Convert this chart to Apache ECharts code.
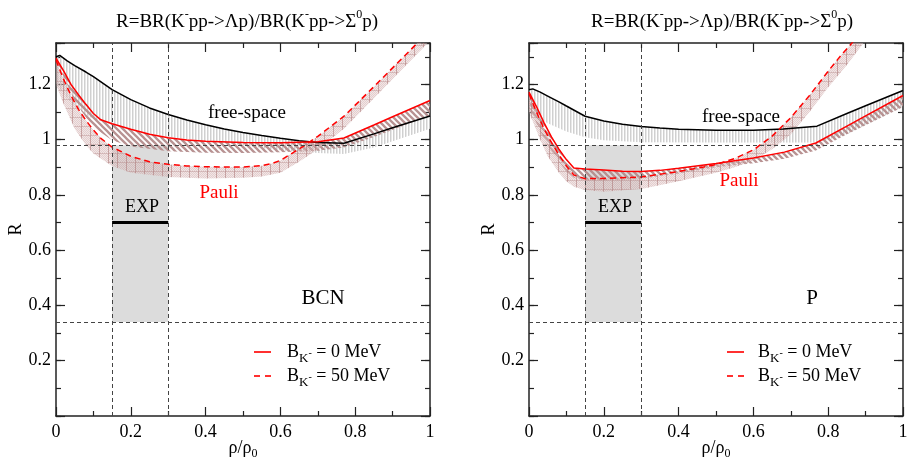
<!DOCTYPE html>
<html><head><meta charset="utf-8">
<script src="https://cdn.jsdelivr.net/npm/echarts@6/dist/echarts.min.js"></script>
<style>html,body{margin:0;padding:0;background:#fff}#c{width:907px;height:462px}</style>
</head><body><div id="c"></div>
<script>
// ---------- axis ticks ----------
const xTicks = [0, 0.2, 0.4, 0.6, 0.8, 1];
const yTicks = [0.2, 0.4, 0.6, 0.8, 1, 1.2];
const yMax = 1.35;

// ---------- experimental window ----------
const expRho = [0.15, 0.30];
const expBand = [0.34, 0.98];
const expValue = 0.70;

// ---------- BCN panel ----------
const bcnFreeX = [0, 0.01, 0.03, 0.05, 0.08, 0.1, 0.15, 0.2, 0.25, 0.3, 0.35, 0.4, 0.45, 0.5, 0.55, 0.6, 0.65, 0.7, 0.77, 0.85, 0.9, 1];
const bcnFreeY = [1.300, 1.305, 1.285, 1.268, 1.245, 1.228, 1.181, 1.145, 1.115, 1.091, 1.071, 1.054, 1.039, 1.026, 1.015, 1.005, 0.996, 0.990, 0.987, 1.021, 1.043, 1.086];
const bcnFreeLoX = [0, 0.03, 0.05, 0.08, 0.1, 0.15, 0.2, 0.3, 0.4, 0.5, 0.6, 0.7, 0.77, 0.85, 1];
const bcnFreeLoY = [1.20, 1.15, 1.12, 1.09, 1.075, 1.055, 1.035, 1.01, 0.995, 0.98, 0.962, 0.952, 0.948, 0.972, 1.04];
const bcnPauli0X = [0, 0.02, 0.04, 0.06, 0.08, 0.1, 0.12, 0.15, 0.2, 0.25, 0.3, 0.35, 0.4, 0.5, 0.6, 0.7, 0.77, 0.85, 0.9, 1];
const bcnPauli0Y = [1.295, 1.25, 1.20, 1.163, 1.128, 1.095, 1.072, 1.058, 1.038, 1.02, 1.007, 0.999, 0.994, 0.990, 0.989, 0.993, 1.006, 1.053, 1.083, 1.142];
const bcnPauli0LoX = [0, 0.03, 0.05, 0.08, 0.1, 0.15, 0.2, 0.3, 0.4, 0.5, 0.6, 0.7, 0.77, 0.85, 1];
const bcnPauli0LoY = [1.29, 1.20, 1.14, 1.08, 1.045, 0.998, 0.975, 0.958, 0.953, 0.952, 0.955, 0.96, 0.972, 1.01, 1.088];
const bcnPauli50X = [0, 0.02, 0.04, 0.06, 0.08, 0.1, 0.12, 0.15, 0.2, 0.25, 0.3, 0.35, 0.4, 0.5, 0.55, 0.58, 0.6, 0.63, 0.66, 0.7, 0.77, 0.85, 0.9, 0.97];
const bcnPauli50Y = [1.288, 1.22, 1.16, 1.11, 1.07, 1.035, 1.005, 0.973, 0.94, 0.92, 0.911, 0.905, 0.902, 0.901, 0.906, 0.915, 0.925, 0.95, 0.975, 1.012, 1.085, 1.192, 1.26, 1.355];
const bcnPauli50LoX = [0, 0.02, 0.05, 0.08, 0.1, 0.15, 0.2, 0.3, 0.4, 0.5, 0.55, 0.6, 0.65, 0.7, 0.77, 0.85, 0.9, 0.98, 1];
const bcnPauli50LoY = [1.2, 1.13, 1.04, 0.98, 0.95, 0.905, 0.88, 0.865, 0.86, 0.862, 0.867, 0.88, 0.92, 0.965, 1.04, 1.15, 1.22, 1.33, 1.36];

// ---------- P panel ----------
const pFreeX = [0, 0.01, 0.03, 0.05, 0.08, 0.1, 0.15, 0.2, 0.25, 0.3, 0.35, 0.4, 0.5, 0.6, 0.68, 0.77, 0.85, 0.9, 1];
const pFreeY = [1.181, 1.184, 1.172, 1.158, 1.137, 1.122, 1.085, 1.068, 1.056, 1.048, 1.042, 1.038, 1.034, 1.034, 1.039, 1.049, 1.095, 1.123, 1.178];
const pFreeLoX = [0, 0.05, 0.1, 0.15, 0.2, 0.3, 0.5, 0.7, 0.77, 0.85, 1];
const pFreeLoY = [1.10, 1.06, 1.03, 1.009, 0.998, 0.991, 0.99, 0.99, 0.99, 1.02, 1.12];
const pPauli0X = [0, 0.02, 0.04, 0.06, 0.08, 0.1, 0.12, 0.15, 0.2, 0.25, 0.3, 0.35, 0.4, 0.5, 0.6, 0.683, 0.767, 0.85, 0.9, 1];
const pPauli0Y = [1.172, 1.12, 1.062, 1.01, 0.966, 0.928, 0.898, 0.894, 0.89, 0.886, 0.885, 0.889, 0.897, 0.914, 0.934, 0.955, 0.988, 1.049, 1.086, 1.16];
const pPauli0LoX = [0, 0.03, 0.05, 0.08, 0.1, 0.12, 0.15, 0.2, 0.3, 0.4, 0.5, 0.6, 0.683, 0.767, 0.85, 1];
const pPauli0LoY = [1.12, 1.03, 0.98, 0.92, 0.885, 0.862, 0.853, 0.853, 0.859, 0.878, 0.9, 0.915, 0.931, 0.961, 1.02, 1.118];
const pPauli50X = [0, 0.02, 0.04, 0.06, 0.08, 0.1, 0.12, 0.15, 0.2, 0.3, 0.4, 0.45, 0.5, 0.55, 0.6, 0.65, 0.7, 0.75, 0.8, 0.834, 0.87];
const pPauli50Y = [1.166, 1.10, 1.04, 0.99, 0.945, 0.905, 0.872, 0.859, 0.86, 0.865, 0.885, 0.897, 0.91, 0.932, 0.963, 1.013, 1.08, 1.16, 1.248, 1.305, 1.36];
const pPauli50LoX = [0, 0.03, 0.05, 0.08, 0.1, 0.12, 0.15, 0.2, 0.3, 0.4, 0.5, 0.55, 0.6, 0.65, 0.7, 0.75, 0.8, 0.85, 0.9];
const pPauli50LoY = [1.10, 1.0, 0.94, 0.88, 0.85, 0.83, 0.818, 0.812, 0.822, 0.85, 0.88, 0.9, 0.925, 0.965, 1.02, 1.1, 1.19, 1.27, 1.36];

// ---------- styling helpers ----------
const FONT = 'Liberation Serif';

function makePattern(kind) {
  const c = document.createElement('canvas');
  const g = c.getContext('2d');
  if (kind === 'vert') {
    c.width = 3; c.height = 3;
    g.fillStyle = 'rgba(205,205,205,0.95)'; g.fillRect(0, 0, 1.5, 3);
  } else if (kind === 'diag') {
    c.width = 6; c.height = 6;
    g.strokeStyle = 'rgba(180,140,140,0.95)'; g.lineWidth = 2.3;
    g.beginPath();
    g.moveTo(-2, -2); g.lineTo(8, 8);
    g.moveTo(-2, 4); g.lineTo(2, 8);
    g.moveTo(4, -2); g.lineTo(8, 2);
    g.stroke();
  } else {
    c.width = 9; c.height = 9;
    for (let i = 0; i < 9; i++) for (let j = 0; j < 9; j++) {
      g.fillStyle = ((i + j) % 2) ? 'rgba(205,165,165,0.55)' : 'rgba(225,200,200,0.45)';
      g.fillRect(i, j, 1, 1);
    }
    g.fillStyle = 'rgba(175,125,125,0.6)'; g.fillRect(0, 0, 1, 9);
    g.fillStyle = 'rgba(175,125,125,0.35)'; g.fillRect(0, 0, 9, 1);
  }
  return { image: c, repeat: 'repeat' };
}
const patVert = makePattern('vert');
const patDiag = makePattern('diag');
const patCross = makePattern('cross');

function zip(xs, ys) { return xs.map((x, i) => [x, ys[i]]); }

function bandSeries(gi, upX, upY, loX, loY, pat, z) {
  return {
    type: 'custom', xAxisIndex: gi * 2, yAxisIndex: gi * 4, z: z, silent: true,
    data: [[0, 0]],
    renderItem: function (params, api) {
      const pts = [];
      for (let i = 0; i < upX.length; i++) pts.push(api.coord([upX[i], upY[i]]));
      for (let i = loX.length - 1; i >= 0; i--) pts.push(api.coord([loX[i], loY[i]]));
      const cs = params.coordSys;
      return {
        type: 'polygon', shape: { points: pts }, style: { fill: pat, stroke: null },
        clipPath: { type: 'rect', shape: { x: cs.x, y: cs.y, width: cs.width, height: cs.height } }
      };
    }
  };
}
function rectSeries(gi) {
  return {
    type: 'custom', xAxisIndex: gi * 2, yAxisIndex: gi * 4, z: 1, silent: true,
    data: [[expRho[0], expBand[0], expRho[1], expBand[1]]],
    renderItem: function (params, api) {
      const p0 = api.coord([api.value(0), api.value(3)]);
      const p1 = api.coord([api.value(2), api.value(1)]);
      return { type: 'rect', shape: { x: p0[0], y: p0[1], width: p1[0] - p0[0], height: p1[1] - p0[1] }, style: { fill: '#dcdcdc' } };
    }
  };
}
function lineSeries(gi, xs, ys, color, dashed) {
  return {
    type: 'line', xAxisIndex: gi * 2, yAxisIndex: gi * 4, z: 4, silent: true,
    data: zip(xs, ys), showSymbol: false, symbol: 'none', clip: true,
    lineStyle: { color: color, width: 1.5, type: dashed ? [6, 4] : 'solid' }
  };
}
function expSeries(gi) {
  return {
    type: 'line', xAxisIndex: gi * 2, yAxisIndex: gi * 4, z: 6, silent: true,
    data: [[expRho[0], expValue], [expRho[1], expValue]], showSymbol: false, symbol: 'none',
    lineStyle: { color: '#000', width: 3 },
    markLine: {
      silent: true, symbol: 'none', label: { show: false },
      lineStyle: { color: '#444', width: 1, type: [4, 3] },
      data: [{ xAxis: expRho[0] }, { xAxis: expRho[1] }, { yAxis: expBand[0] }, { yAxis: expBand[1] }]
    }
  };
}

const grids = [
  { left: 56, top: 43, width: 374, height: 373 },
  { left: 529, top: 43, width: 374, height: 373 }
];

const axisLineStyle = { color: '#222', width: 1.5 };
const xAxes = [], yAxes = [];
[0, 1].forEach(gi => {
  ['bottom', 'top'].forEach(pos => {
    xAxes.push({
      type: 'value', gridIndex: gi, position: pos, min: 0, max: 1, interval: 0.2,
      axisLine: { show: true, onZero: false, lineStyle: axisLineStyle },
      axisTick: { show: true, inside: true, length: 9, lineStyle: { color: '#222', width: 1.2 } },
      minorTick: { show: true, splitNumber: 2, length: 5, lineStyle: { color: '#222', width: 1.2 } },
      splitLine: { show: false }, minorSplitLine: { show: false },
      axisLabel: { show: pos === 'bottom', margin: 7, color: '#000', fontFamily: FONT, fontSize: 18,
        formatter: v => xTicks.some(t => Math.abs(t - v) < 1e-9) ? String(+v.toFixed(1)) : '' },
      name: pos === 'bottom' ? 'ρ/ρ{sub|0}' : '', nameLocation: 'middle', nameGap: 20, nameMoveOverlap: false,
      nameTextStyle: { color: '#000', fontFamily: FONT, fontSize: 18, lineHeight: 24,
        rich: { sub: { fontSize: 12, fontFamily: FONT, color: '#000', verticalAlign: 'bottom', lineHeight: 12 } } }
    });
  });
  ['left', 'right'].forEach(pos => {
    yAxes.push({
      type: 'value', gridIndex: gi, position: pos, min: 0, max: yMax, interval: 0.2,
      axisLine: { show: true, onZero: false, lineStyle: axisLineStyle },
      axisTick: { show: true, inside: true, length: 9, lineStyle: { color: '#222', width: 1.2 } },
      splitLine: { show: false },
      axisLabel: { show: pos === 'left', margin: 5, color: '#000', fontFamily: FONT, fontSize: 18,
        formatter: v => yTicks.some(t => Math.abs(t - v) < 1e-9) ? String(+v.toFixed(1)) : '' },
      name: pos === 'left' ? 'R' : '', nameLocation: 'middle', nameGap: 31, nameRotate: 90, nameMoveOverlap: false,
      nameTextStyle: { color: '#000', fontFamily: FONT, fontSize: 18 }
    });
    yAxes.push({
      type: 'value', gridIndex: gi, position: pos, min: 0, max: yMax, interval: 0.1,
      axisLine: { show: false, onZero: false },
      axisTick: { show: true, inside: true, length: 5, lineStyle: { color: '#222', width: 1.2 } },
      splitLine: { show: false }, axisLabel: { show: false }
    });
  });
});

const panels = [
  { free: [bcnFreeX, bcnFreeY, bcnFreeLoX, bcnFreeLoY], p0: [bcnPauli0X, bcnPauli0Y, bcnPauli0LoX, bcnPauli0LoY], p50: [bcnPauli50X, bcnPauli50Y, bcnPauli50LoX, bcnPauli50LoY] },
  { free: [pFreeX, pFreeY, pFreeLoX, pFreeLoY], p0: [pPauli0X, pPauli0Y, pPauli0LoX, pPauli0LoY], p50: [pPauli50X, pPauli50Y, pPauli50LoX, pPauli50LoY] }
];
const series = [];
panels.forEach((p, gi) => {
  series.push(rectSeries(gi));
  series.push(bandSeries(gi, p.free[0], p.free[1], p.free[2], p.free[3], patVert, 2));
  series.push(bandSeries(gi, p.p0[0], p.p0[1], p.p0[2], p.p0[3], patDiag, 3));
  series.push(bandSeries(gi, p.p50[0], p.p50[1], p.p50[2], p.p50[3], patCross, 3));
  series.push(lineSeries(gi, p.free[0], p.free[1], '#000', false));
  series.push(lineSeries(gi, p.p0[0], p.p0[1], '#ff0000', false));
  series.push(lineSeries(gi, p.p50[0], p.p50[1], '#ff0000', true));
  series.push(expSeries(gi));
});

function txt(x, y, text, size, color, align, rich, lh) {
  const st = { text: text, fill: color || '#000', fontFamily: FONT, fontSize: size,
    align: align || 'center', verticalAlign: 'middle' };
  if (rich) st.rich = rich;
  if (lh) st.lineHeight = lh;
  return { type: 'text', x: x, y: y, z: 100, silent: true, style: st };
}
const titleRich = { sup: { fontSize: 12, fontFamily: FONT, fill: '#000', verticalAlign: 'top', lineHeight: 12 } };
const legRich = {
  k: { fontSize: 13, fontFamily: FONT, fill: '#000', verticalAlign: 'bottom', lineHeight: 14 },
  m: { fontSize: 10, fontFamily: FONT, fill: '#000', verticalAlign: 'bottom', lineHeight: 10, padding: [0, 0, 7, 0] }
};
const titleText = 'R=BR(K{sup|-}pp->Λp)/BR(K{sup|-}pp->Σ{sup|0}p)';
const graphics = [];
[[0, 247, 323, 'BCN'], [1, 722, 812, 'P']].forEach(([gi, tc, lx, lab]) => {
  const off = gi ? 473 : 0;
  graphics.push(txt(tc, 22, titleText, 19, '#000', 'center', titleRich, 26));
  graphics.push(txt(lx, 298, lab, 21, '#000'));
  graphics.push(txt(142 + off, 207, 'EXP', 18, '#000'));
  graphics.push({ type: 'line', z: 100, silent: true, shape: { x1: 254 + off, y1: 352, x2: 271 + off, y2: 352 }, style: { stroke: '#ff3030', lineWidth: 2 } });
  graphics.push({ type: 'line', z: 100, silent: true, shape: { x1: 254 + off, y1: 376, x2: 272 + off, y2: 376 }, style: { stroke: '#ff3030', lineWidth: 2, lineDash: [6, 5] } });
  graphics.push(txt(287 + (gi ? 471 : 0), 352, 'B{k|K}{m|-} = 0 MeV', 18, '#000', 'left', legRich, 26));
  graphics.push(txt(287 + (gi ? 471 : 0), 376, 'B{k|K}{m|-} = 50 MeV', 18, '#000', 'left', legRich, 26));
});
graphics.push(txt(247, 113, 'free-space', 19, '#000'));
graphics.push(txt(219, 193, 'Pauli', 19, '#ff0000'));
graphics.push(txt(741, 117, 'free-space', 19, '#000'));
graphics.push(txt(739, 181, 'Pauli', 19, '#ff0000'));

const chart = echarts.init(document.getElementById('c'), null, { renderer: 'canvas' });
chart.setOption({
  animation: false,
  backgroundColor: '#fff',
  grid: grids.map(g => Object.assign({ outerBoundsMode: 'none', containLabel: false }, g)),
  xAxis: xAxes,
  yAxis: yAxes,
  series: series,
  graphic: graphics
});
</script>
</body></html>
